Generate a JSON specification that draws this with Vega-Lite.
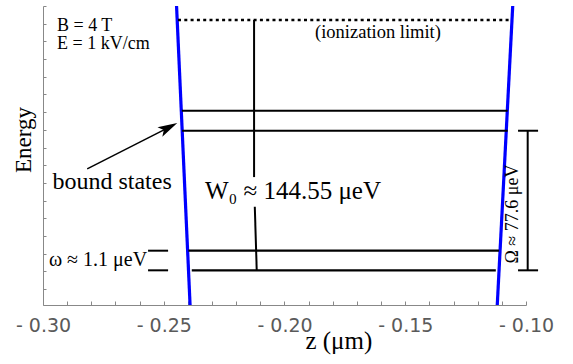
{
  "$schema": "https://vega.github.io/schema/vega-lite/v6.json",
  "width": 483,
  "height": 299,
  "autosize": {"type": "none"},
  "padding": {"left": 43, "top": 6, "right": 47, "bottom": 59},
  "background": "white",
  "config": {"view": {"stroke": null}, "text": {"font": "Liberation Serif"}},
  "datasets": {
    "levels": [
      {"x": -0.2425, "x2": -0.1076, "y": 10.08, "y2": 10.08},
      {"x": -0.2424, "x2": -0.1076, "y": 8.95, "y2": 8.95},
      {"x": -0.2398, "x2": -0.1112, "y": 2.17, "y2": 2.17},
      {"x": -0.2384, "x2": -0.1125, "y": 1.06, "y2": 1.06}
    ],
    "thin": [
      {"x": -0.2126, "x2": -0.2126, "y": 15.21, "y2": 6.33},
      {"x": -0.2123, "x2": -0.2115, "y": 4.65, "y2": 1.06},
      {"x": -0.0993, "x2": -0.0993, "y": 8.95, "y2": 1.06},
      {"x": -0.1033, "x2": -0.0950, "y": 8.95, "y2": 8.95},
      {"x": -0.1033, "x2": -0.0950, "y": 1.06, "y2": 1.06},
      {"x": -0.2565, "x2": -0.2482, "y": 2.17, "y2": 2.17},
      {"x": -0.2565, "x2": -0.2482, "y": 1.06, "y2": 1.06}
    ],
    "shaft": [
      {"x": -0.2817, "x2": -0.2485, "y": 6.79, "y2": 9.10}
    ],
    "head": [
      {"x": -0.2480, "y": 9.13}
    ],
    "walls": [
      {"x": -0.2447, "x2": -0.2391, "y": 16, "y2": -0.9},
      {"x": -0.1055, "x2": -0.1119, "y": 16, "y2": -0.9}
    ],
    "limit": [
      {"x": -0.2441, "x2": -0.1066, "y": 15.21, "y2": 15.21}
    ],
    "field": [
      {"x": -0.2942, "y": 14.60, "label": "B = 4 T"},
      {"x": -0.2942, "y": 13.55, "label": "E = 1 kV/cm"}
    ],
    "ion": [{"x": -0.1613, "y": 14.19, "label": "(ionization limit)"}],
    "bound": [{"x": -0.2714, "y": 5.64, "label": "bound states"}],
    "w0": [{"x": -0.1965, "y": 5.09, "label": "W₀ ≈ 144.55 μeV"}],
    "omega": [{"x": -0.2569, "y": 1.30, "label": "ω ≈ 1.1 μeV"}],
    "bigomega": [{"x": -0.1054, "y": 4.24, "label": "Ω ≈ 77.6 μeV"}],
    "ytitle": [{"x": -0.30787, "y": 8.43, "label": "Energy"}],
    "xtitle": [{"x": -0.1775, "y": -3.36, "label": "z (μm)"}]
  },
  "encoding": {
    "x": {
      "field": "x", "type": "quantitative",
      "scale": {"domain": [-0.30, -0.10], "nice": false, "zero": false},
      "axis": {
        "title": null,
        "values": [-0.30,-0.29,-0.28,-0.27,-0.26,-0.25,-0.24,-0.23,-0.22,-0.21,-0.20,-0.19,-0.18,-0.17,-0.16,-0.15,-0.14,-0.13,-0.12,-0.11,-0.10],
        "labelExpr": "round(abs(datum.value)*100) % 5 == 0 ? '- ' + format(abs(datum.value), '.2f') : ''",
        "grid": false,
        "domainColor": "#888888",
        "tickColor": "#888888",
        "tickSize": -4,
        "labelFont": "DejaVu Sans",
        "labelFontSize": 19,
        "labelColor": "#5a5a5a",
        "labelPadding": 15,
        "labelFlush": false,
        "labelOverlap": false
      }
    },
    "y": {
      "field": "y", "type": "quantitative",
      "scale": {"domain": [-0.9, 16], "nice": false, "zero": false},
      "axis": {
        "title": null,
        "values": [0,1,2,3,4,5,6,7,8,9,10,11,12,13,14,15,16],
        "labels": false,
        "grid": false,
        "domainColor": "#888888",
        "tickColor": "#888888",
        "tickSize": -3
      }
    }
  },
  "layer": [
    {"data": {"name": "walls"}, "mark": {"type": "rule", "color": "#0000ff", "strokeWidth": 3.2, "clip": true},
     "encoding": {"x2": {"field": "x2"}, "y2": {"field": "y2"}}},
    {"data": {"name": "levels"}, "mark": {"type": "rule", "color": "black", "strokeWidth": 2.2},
     "encoding": {"x2": {"field": "x2"}, "y2": {"field": "y2"}}},
    {"data": {"name": "thin"}, "mark": {"type": "rule", "color": "black", "strokeWidth": 2},
     "encoding": {"x2": {"field": "x2"}, "y2": {"field": "y2"}}},
    {"data": {"name": "shaft"}, "mark": {"type": "rule", "color": "black", "strokeWidth": 1.5},
     "encoding": {"x2": {"field": "x2"}, "y2": {"field": "y2"}}},
    {"data": {"name": "head"}, "mark": {"type": "point", "shape": "M 1 0 L -1 -0.55 L -0.55 0 L -1 0.55 Z", "filled": true, "color": "black", "opacity": 1, "size": 380, "angle": 333}},
    {"data": {"name": "limit"}, "mark": {"type": "rule", "color": "black", "strokeWidth": 2.6, "strokeDash": [3, 3.3]},
     "encoding": {"x2": {"field": "x2"}, "y2": {"field": "y2"}}},
    {"data": {"name": "field"}, "mark": {"type": "text", "font": "Liberation Serif", "fontSize": 18, "align": "left", "baseline": "alphabetic", "color": "black"},
     "encoding": {"text": {"field": "label"}}},
    {"data": {"name": "ion"}, "mark": {"type": "text", "font": "Liberation Serif", "fontSize": 18.5, "align": "center", "baseline": "alphabetic", "color": "black"},
     "encoding": {"text": {"field": "label"}}},
    {"data": {"name": "bound"}, "mark": {"type": "text", "font": "Liberation Serif", "fontSize": 24, "align": "center", "baseline": "alphabetic", "color": "black"},
     "encoding": {"text": {"field": "label"}}},
    {"data": {"name": "w0"}, "mark": {"type": "text", "font": "Liberation Serif", "fontSize": 25, "align": "center", "baseline": "alphabetic", "color": "black"},
     "encoding": {"text": {"field": "label"}}},
    {"data": {"name": "omega"}, "mark": {"type": "text", "font": "Liberation Serif", "fontSize": 20, "align": "right", "baseline": "alphabetic", "color": "black"},
     "encoding": {"text": {"field": "label"}}},
    {"data": {"name": "bigomega"}, "mark": {"type": "text", "font": "Liberation Serif", "fontSize": 18, "align": "center", "baseline": "middle", "angle": 270, "color": "black"},
     "encoding": {"text": {"field": "label"}}},
    {"data": {"name": "ytitle"}, "mark": {"type": "text", "font": "Liberation Serif", "fontSize": 23, "align": "center", "baseline": "middle", "angle": 270, "color": "black"},
     "encoding": {"text": {"field": "label"}}},
    {"data": {"name": "xtitle"}, "mark": {"type": "text", "font": "Liberation Serif", "fontSize": 25, "align": "center", "baseline": "alphabetic", "color": "black"},
     "encoding": {"text": {"field": "label"}}}
  ]
}
